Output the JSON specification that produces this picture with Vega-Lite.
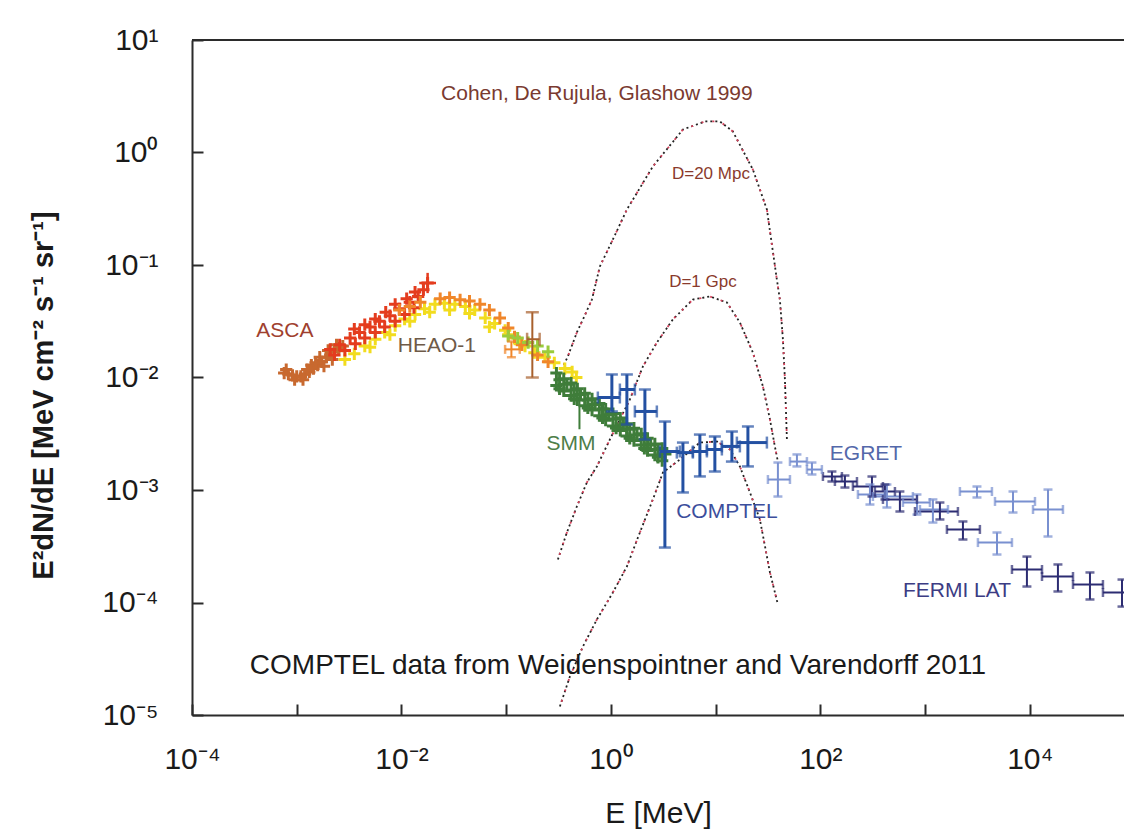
{
  "$schema": "https://vega.github.io/schema/vega-lite/v6.json",
  "width": 932,
  "height": 675,
  "autosize": {"type": "none"},
  "padding": {"left": 192, "top": 40, "right": 0, "bottom": 116},
  "background": "white",
  "config": {
    "view": {"stroke": null},
    "font": "Liberation Sans",
    "axis": {
      "grid": false,
      "domainColor": "#2b2b2b",
      "domainWidth": 2,
      "tickColor": "#2b2b2b",
      "tickWidth": 2,
      "tickSize": -11,
      "labelFont": "Liberation Sans",
      "labelFontSize": 30,
      "labelColor": "#1a1a1a",
      "titleFont": "Liberation Sans",
      "titleColor": "#1a1a1a",
      "labelOverlap": false,
      "labelFlush": false,
      "labelBound": false
    }
  },
  "datasets": {
    "cv": [
      {"c": "D20", "i": 0, "E": 0.340, "F": 0.01178},
      {"c": "D20", "i": 1, "E": 0.388, "F": 0.01538},
      {"c": "D20", "i": 2, "E": 0.473, "F": 0.02512},
      {"c": "D20", "i": 3, "E": 0.541, "F": 0.03281},
      {"c": "D20", "i": 4, "E": 0.659, "F": 0.04932},
      {"c": "D20", "i": 5, "E": 0.785, "F": 0.0971},
      {"c": "D20", "i": 6, "E": 1.045, "F": 0.1687},
      {"c": "D20", "i": 7, "E": 1.422, "F": 0.311},
      {"c": "D20", "i": 8, "E": 2.518, "F": 0.752},
      {"c": "D20", "i": 9, "E": 4.875, "F": 1.6},
      {"c": "D20", "i": 10, "E": 7.907, "F": 1.888},
      {"c": "D20", "i": 11, "E": 10.99, "F": 1.888},
      {"c": "D20", "i": 12, "E": 14.62, "F": 1.538},
      {"c": "D20", "i": 13, "E": 22.7, "F": 0.706},
      {"c": "D20", "i": 14, "E": 30.9, "F": 0.311},
      {"c": "D20", "i": 15, "E": 38.46, "F": 0.0743},
      {"c": "D20", "i": 16, "E": 41.11, "F": 0.04932},
      {"c": "D20", "i": 17, "E": 43.95, "F": 0.02178},
      {"c": "D20", "i": 18, "E": 45.92, "F": 0.00959},
      {"c": "D20", "i": 19, "E": 47.97, "F": 0.00281},
      {"c": "D1G", "i": 0, "E": 0.312, "F": 0.000241},
      {"c": "D1G", "i": 1, "E": 0.38, "F": 0.000419},
      {"c": "D1G", "i": 2, "E": 0.473, "F": 0.000713},
      {"c": "D1G", "i": 3, "E": 0.59, "F": 0.001167},
      {"c": "D1G", "i": 4, "E": 0.735, "F": 0.001618},
      {"c": "D1G", "i": 5, "E": 0.977, "F": 0.00281},
      {"c": "D1G", "i": 6, "E": 1.517, "F": 0.00637},
      {"c": "D1G", "i": 7, "E": 2.023, "F": 0.01253},
      {"c": "D1G", "i": 8, "E": 2.748, "F": 0.02046},
      {"c": "D1G", "i": 9, "E": 3.908, "F": 0.03281},
      {"c": "D1G", "i": 10, "E": 6.067, "F": 0.04932},
      {"c": "D1G", "i": 11, "E": 8.831, "F": 0.05248},
      {"c": "D1G", "i": 12, "E": 12.82, "F": 0.04645},
      {"c": "D1G", "i": 13, "E": 17.06, "F": 0.03083},
      {"c": "D1G", "i": 14, "E": 22.7, "F": 0.01667},
      {"c": "D1G", "i": 15, "E": 28.31, "F": 0.00832},
      {"c": "D1G", "i": 16, "E": 33.04, "F": 0.00424},
      {"c": "D1G", "i": 17, "E": 36.81, "F": 0.00244},
      {"c": "D1G", "i": 18, "E": 39.36, "F": 0.00179},
      {"c": "D3", "i": 0, "E": 0.326, "F": 0.00001191},
      {"c": "D3", "i": 1, "E": 0.406, "F": 0.00002198},
      {"c": "D3", "i": 2, "E": 0.541, "F": 0.00004064},
      {"c": "D3", "i": 3, "E": 0.735, "F": 0.00007063},
      {"c": "D3", "i": 4, "E": 1.045, "F": 0.0001227},
      {"c": "D3", "i": 5, "E": 1.422, "F": 0.0002089},
      {"c": "D3", "i": 6, "E": 1.892, "F": 0.000419},
      {"c": "D3", "i": 7, "E": 2.518, "F": 0.000824},
      {"c": "D3", "i": 8, "E": 3.141, "F": 0.001432},
      {"c": "D3", "i": 9, "E": 4.56, "F": 0.001866},
      {"c": "D3", "i": 10, "E": 7.079, "F": 0.002642},
      {"c": "D3", "i": 11, "E": 10.28, "F": 0.002698},
      {"c": "D3", "i": 12, "E": 13.71, "F": 0.002291},
      {"c": "D3", "i": 13, "E": 17.06, "F": 0.001618},
      {"c": "D3", "i": 14, "E": 21.28, "F": 0.000951},
      {"c": "D3", "i": 15, "E": 26.49, "F": 0.000547},
      {"c": "D3", "i": 16, "E": 33.04, "F": 0.0001849},
      {"c": "D3", "i": 17, "E": 39.36, "F": 0.0000959}
    ],
    "pts": [
      {"s": "HEAOy", "E": 0.002884, "F": 0.01445},
      {"s": "HEAOy", "E": 0.003548, "F": 0.01622},
      {"s": "HEAOy", "E": 0.004467, "F": 0.01905},
      {"s": "HEAOy", "E": 0.005623, "F": 0.02188},
      {"s": "HEAOy", "E": 0.006918, "F": 0.02512},
      {"s": "HEAOy", "E": 0.00871, "F": 0.02884},
      {"s": "HEAOy", "E": 0.01072, "F": 0.03311},
      {"s": "HEAOy", "E": 0.01349, "F": 0.03631},
      {"s": "HEAOy", "E": 0.0166, "F": 0.04074},
      {"s": "HEAOy", "E": 0.02089, "F": 0.04467},
      {"s": "HEAOy", "E": 0.0257, "F": 0.04571},
      {"s": "HEAOy", "E": 0.03236, "F": 0.04467},
      {"s": "HEAOy", "E": 0.04074, "F": 0.04266},
      {"s": "HEAOy", "E": 0.05012, "F": 0.03981},
      {"s": "HEAOy", "E": 0.0631, "F": 0.03388},
      {"s": "HEAOy", "E": 0.07762, "F": 0.0302},
      {"s": "HEAOy", "E": 0.09772, "F": 0.0263},
      {"s": "HEAOy", "E": 0.1202, "F": 0.02239},
      {"s": "HEAOy", "E": 0.1514, "F": 0.01905},
      {"s": "HEAOy", "E": 0.1862, "F": 0.0166},
      {"s": "HEAOy", "E": 0.2344, "F": 0.01514},
      {"s": "HEAOy", "E": 0.2884, "F": 0.01349},
      {"s": "HEAOy", "E": 0.3631, "F": 0.01202},
      {"s": "HEAOy", "E": 0.4266, "F": 0.01122},
      {"s": "HEAOy", "E": 0.4677, "F": 0.01},
      {"s": "HEAOy", "E": 0.01862, "F": 0.03802},
      {"s": "HEAOy", "E": 0.02884, "F": 0.03981},
      {"s": "HEAOy", "E": 0.04467, "F": 0.03715},
      {"s": "HEAOy", "E": 0.06918, "F": 0.02818},
      {"s": "HEAOy", "E": 0.005012, "F": 0.01862},
      {"s": "HEAOy", "E": 0.007762, "F": 0.02399},
      {"s": "HEAOy", "E": 0.01202, "F": 0.03162},
      {"s": "HEAOy", "E": 0.1047, "F": 0.02399},
      {"s": "HEAOy", "E": 0.1349, "F": 0.01995},
      {"s": "ASCAb", "E": 0.000759, "F": 0.01096},
      {"s": "ASCAb", "E": 0.000832, "F": 0.01072},
      {"s": "ASCAb", "E": 0.000912, "F": 0.01047},
      {"s": "ASCAb", "E": 0.001, "F": 0.01023},
      {"s": "ASCAb", "E": 0.001096, "F": 0.01023},
      {"s": "ASCAb", "E": 0.001202, "F": 0.01072},
      {"s": "ASCAb", "E": 0.001318, "F": 0.01122},
      {"s": "ASCAb", "E": 0.001445, "F": 0.01202},
      {"s": "ASCAb", "E": 0.001585, "F": 0.01288},
      {"s": "ASCAb", "E": 0.001738, "F": 0.0138},
      {"s": "ASCAb", "E": 0.001905, "F": 0.01514},
      {"s": "ASCAb", "E": 0.002089, "F": 0.01585},
      {"s": "ASCAb", "E": 0.002291, "F": 0.01698},
      {"s": "ASCAb", "E": 0.002512, "F": 0.0182},
      {"s": "ASCAb", "E": 0.002754, "F": 0.01905},
      {"s": "ASCAb", "E": 0.000794, "F": 0.01175},
      {"s": "ASCAb", "E": 0.000955, "F": 0.00955},
      {"s": "ASCAb", "E": 0.001148, "F": 0.00955},
      {"s": "ASCAb", "E": 0.00138, "F": 0.01288},
      {"s": "ASCAb", "E": 0.00166, "F": 0.01514},
      {"s": "ASCAb", "E": 0.001995, "F": 0.01738},
      {"s": "ASCAb", "E": 0.002399, "F": 0.0195},
      {"s": "ASCAb", "E": 0.00182, "F": 0.01259},
      {"s": "ASCAb", "E": 0.002188, "F": 0.01445},
      {"s": "ASCAb", "E": 0.001259, "F": 0.01175},
      {"s": "ASCAb", "E": 0.001514, "F": 0.01349},
      {"s": "ASCAr", "E": 0.002089, "F": 0.01778},
      {"s": "ASCAr", "E": 0.00257, "F": 0.0195},
      {"s": "ASCAr", "E": 0.003236, "F": 0.02239},
      {"s": "ASCAr", "E": 0.003981, "F": 0.02512},
      {"s": "ASCAr", "E": 0.005012, "F": 0.02818},
      {"s": "ASCAr", "E": 0.006166, "F": 0.03162},
      {"s": "ASCAr", "E": 0.007762, "F": 0.03548},
      {"s": "ASCAr", "E": 0.00955, "F": 0.04074},
      {"s": "ASCAr", "E": 0.01202, "F": 0.04677},
      {"s": "ASCAr", "E": 0.01445, "F": 0.05248},
      {"s": "ASCAr", "E": 0.01622, "F": 0.06026},
      {"s": "ASCAr", "E": 0.01778, "F": 0.06918},
      {"s": "ASCAr", "E": 0.002291, "F": 0.01585},
      {"s": "ASCAr", "E": 0.002884, "F": 0.01738},
      {"s": "ASCAr", "E": 0.003631, "F": 0.01995},
      {"s": "ASCAr", "E": 0.004467, "F": 0.02239},
      {"s": "ASCAr", "E": 0.005623, "F": 0.02512},
      {"s": "ASCAr", "E": 0.006918, "F": 0.02818},
      {"s": "ASCAr", "E": 0.00871, "F": 0.03162},
      {"s": "ASCAr", "E": 0.01072, "F": 0.03631},
      {"s": "ASCAr", "E": 0.01318, "F": 0.04169},
      {"s": "ASCAr", "E": 0.003548, "F": 0.02692},
      {"s": "ASCAr", "E": 0.005623, "F": 0.03311},
      {"s": "ASCAr", "E": 0.00871, "F": 0.04467},
      {"s": "ASCAr", "E": 0.01349, "F": 0.05754},
      {"s": "ASCAr", "E": 0.004467, "F": 0.02951},
      {"s": "ASCAr", "E": 0.007079, "F": 0.03802},
      {"s": "ASCAr", "E": 0.01122, "F": 0.05012},
      {"s": "HEAOo", "E": 0.00955, "F": 0.03981},
      {"s": "HEAOo", "E": 0.01202, "F": 0.04266},
      {"s": "HEAOo", "E": 0.01514, "F": 0.04677},
      {"s": "HEAOo", "E": 0.02344, "F": 0.05012},
      {"s": "HEAOo", "E": 0.02884, "F": 0.05129},
      {"s": "HEAOo", "E": 0.03631, "F": 0.04898},
      {"s": "HEAOo", "E": 0.04467, "F": 0.04786},
      {"s": "HEAOo", "E": 0.05623, "F": 0.04467},
      {"s": "HEAOo", "E": 0.06918, "F": 0.03981},
      {"s": "HEAOo", "E": 0.0871, "F": 0.03388},
      {"s": "HEAOo", "E": 0.1047, "F": 0.02754},
      {"s": "HEAOo", "E": 0.1202, "F": 0.02291},
      {"s": "HEAOo", "E": 0.1413, "F": 0.0195},
      {"s": "HEAOo", "E": 0.1995, "F": 0.01585},
      {"s": "HEAOo", "E": 0.2512, "F": 0.0138},
      {"s": "LG", "E": 0.1047, "F": 0.02344},
      {"s": "LG", "E": 0.1288, "F": 0.02239},
      {"s": "LG", "E": 0.1622, "F": 0.02042},
      {"s": "LG", "E": 0.1995, "F": 0.01905},
      {"s": "LG", "E": 0.2512, "F": 0.01698},
      {"s": "SMM", "E": 0.302, "F": 0.01096},
      {"s": "SMM", "E": 0.3548, "F": 0.009772},
      {"s": "SMM", "E": 0.4169, "F": 0.008913},
      {"s": "SMM", "E": 0.4786, "F": 0.007943},
      {"s": "SMM", "E": 0.5623, "F": 0.007244},
      {"s": "SMM", "E": 0.6607, "F": 0.006457},
      {"s": "SMM", "E": 0.7762, "F": 0.005888},
      {"s": "SMM", "E": 0.8913, "F": 0.005248},
      {"s": "SMM", "E": 1.047, "F": 0.004786},
      {"s": "SMM", "E": 1.23, "F": 0.004365},
      {"s": "SMM", "E": 1.413, "F": 0.00389},
      {"s": "SMM", "E": 1.66, "F": 0.003548},
      {"s": "SMM", "E": 1.95, "F": 0.003162},
      {"s": "SMM", "E": 2.239, "F": 0.002884},
      {"s": "SMM", "E": 2.63, "F": 0.00257},
      {"s": "SMM", "E": 3.09, "F": 0.002344},
      {"s": "SMM", "E": 0.3236, "F": 0.00955},
      {"s": "SMM", "E": 0.3802, "F": 0.00871},
      {"s": "SMM", "E": 0.4467, "F": 0.007762},
      {"s": "SMM", "E": 0.5129, "F": 0.007079},
      {"s": "SMM", "E": 0.6026, "F": 0.00631},
      {"s": "SMM", "E": 0.7079, "F": 0.005754},
      {"s": "SMM", "E": 0.8318, "F": 0.005248},
      {"s": "SMM", "E": 0.955, "F": 0.004677},
      {"s": "SMM", "E": 1.122, "F": 0.004266},
      {"s": "SMM", "E": 1.318, "F": 0.003802},
      {"s": "SMM", "E": 1.514, "F": 0.003467},
      {"s": "SMM", "E": 1.778, "F": 0.00309},
      {"s": "SMM", "E": 2.089, "F": 0.002818},
      {"s": "SMM", "E": 2.399, "F": 0.002512},
      {"s": "SMM", "E": 2.818, "F": 0.002291},
      {"s": "SMM", "E": 3.311, "F": 0.002089},
      {"s": "SMM", "E": 0.302, "F": 0.008511},
      {"s": "SMM", "E": 0.3548, "F": 0.007586},
      {"s": "SMM", "E": 0.4169, "F": 0.006918},
      {"s": "SMM", "E": 0.4786, "F": 0.00631},
      {"s": "SMM", "E": 0.5623, "F": 0.005623},
      {"s": "SMM", "E": 0.6607, "F": 0.005129},
      {"s": "SMM", "E": 0.7762, "F": 0.004571},
      {"s": "SMM", "E": 0.8913, "F": 0.004169},
      {"s": "SMM", "E": 1.047, "F": 0.003715},
      {"s": "SMM", "E": 1.23, "F": 0.003388},
      {"s": "SMM", "E": 1.413, "F": 0.00302},
      {"s": "SMM", "E": 1.66, "F": 0.002754},
      {"s": "SMM", "E": 1.95, "F": 0.002512},
      {"s": "SMM", "E": 2.239, "F": 0.002239},
      {"s": "SMM", "E": 2.63, "F": 0.002042},
      {"s": "SMM", "E": 3.09, "F": 0.00182},
      {"s": "SMM", "E": 0.3236, "F": 0.00794},
      {"s": "SMM", "E": 0.4467, "F": 0.00646},
      {"s": "SMM", "E": 0.6026, "F": 0.00537},
      {"s": "SMM", "E": 0.8318, "F": 0.00437},
      {"s": "SMM", "E": 1.122, "F": 0.00355},
      {"s": "SMM", "E": 1.514, "F": 0.00288},
      {"s": "SMM", "E": 2.089, "F": 0.00234},
      {"s": "SMM", "E": 2.818, "F": 0.00195}
    ],
    "eb": [
      {"s": "ASCAr", "E": 0.01778, "Elo": 0.01479, "Ehi": 0.02138, "F": 0.06918, "Flo": 0.05623, "Fhi": 0.08511, "cap": false},
      {"s": "HEAOo", "E": 0.1122, "Elo": 0.09772, "Ehi": 0.1349, "F": 0.01778, "Flo": 0.01514, "Fhi": 0.02089, "cap": true},
      {"s": "HEAObr", "E": 0.1778, "Elo": 0.1585, "Ehi": 0.2089, "F": 0.02188, "Flo": 0.01, "Fhi": 0.03802, "cap": true},
      {"s": "SMM", "E": 0.5012, "Elo": 0.5012, "Ehi": 0.5012, "F": 0.004898, "Flo": 0.003467, "Fhi": 0.006761, "cap": false},
      {"s": "COMPTEL", "E": 1.022, "Elo": 0.751, "Ehi": 1.219, "F": 0.00664, "Flo": 0.00499, "Fhi": 0.01064, "cap": true},
      {"s": "COMPTEL", "E": 1.422, "Elo": 1.219, "Ehi": 1.695, "F": 0.00782, "Flo": 0.00382, "Fhi": 0.01064, "cap": true},
      {"s": "COMPTEL", "E": 2.113, "Elo": 1.695, "Ehi": 2.748, "F": 0.00499, "Flo": 0.00281, "Fhi": 0.00782, "cap": true},
      {"s": "COMPTEL", "E": 3.279, "Elo": 2.938, "Ehi": 4.56, "F": 0.0022, "Flo": 0.000308, "Fhi": 0.00406, "cap": true},
      {"s": "COMPTEL", "E": 4.875, "Elo": 4.266, "Ehi": 6.067, "F": 0.00215, "Flo": 0.000951, "Fhi": 0.00264, "cap": true},
      {"s": "COMPTEL", "E": 7.079, "Elo": 6.067, "Ehi": 8.26, "F": 0.0022, "Flo": 0.00132, "Fhi": 0.00311, "cap": true},
      {"s": "COMPTEL", "E": 9.84, "Elo": 8.26, "Ehi": 11.48, "F": 0.00229, "Flo": 0.00146, "Fhi": 0.00299, "cap": true},
      {"s": "COMPTEL", "E": 14.31, "Elo": 11.48, "Ehi": 17.06, "F": 0.00244, "Flo": 0.00179, "Fhi": 0.00331, "cap": true},
      {"s": "COMPTEL", "E": 20.35, "Elo": 15.97, "Ehi": 30.9, "F": 0.00264, "Flo": 0.00162, "Fhi": 0.00367, "cap": true},
      {"s": "EGRET", "E": 39.36, "Elo": 31.6, "Ehi": 51.3, "F": 0.001239, "Flo": 0.000875, "Fhi": 0.001755, "cap": true},
      {"s": "EGRET", "E": 59.8, "Elo": 51.3, "Ehi": 74.5, "F": 0.00179, "Flo": 0.00162, "Fhi": 0.00207, "cap": true},
      {"s": "EGRET", "E": 83.2, "Elo": 74.5, "Ehi": 103.5, "F": 0.00152, "Flo": 0.001374, "Fhi": 0.001755, "cap": true},
      {"s": "EGRET", "E": 297.8, "Elo": 228.6, "Ehi": 414, "F": 0.000912, "Flo": 0.000743, "Fhi": 0.001119, "cap": true},
      {"s": "EGRET", "E": 432.5, "Elo": 317.8, "Ehi": 765.6, "F": 0.000875, "Flo": 0.000699, "Fhi": 0.001119, "cap": true},
      {"s": "EGRET", "E": 837.5, "Elo": 615, "Ehi": 1114, "F": 0.000774, "Flo": 0.000605, "Fhi": 0.000912, "cap": true},
      {"s": "EGRET", "E": 1189, "Elo": 894, "Ehi": 1656, "F": 0.000671, "Flo": 0.000514, "Fhi": 0.000824, "cap": true},
      {"s": "EGRET", "E": 3133, "Elo": 2153, "Ehi": 4355, "F": 0.00097, "Flo": 0.000858, "Fhi": 0.001074, "cap": true},
      {"s": "EGRET", "E": 4864, "Elo": 3199, "Ehi": 6761, "F": 0.000341, "Flo": 0.000267, "Fhi": 0.000419, "cap": true},
      {"s": "EGRET", "E": 6918, "Elo": 4656, "Ehi": 11220, "F": 0.000791, "Flo": 0.000631, "Fhi": 0.00097, "cap": true},
      {"s": "EGRET", "E": 14930, "Elo": 10740, "Ehi": 20750, "F": 0.000671, "Flo": 0.000386, "Fhi": 0.001009, "cap": true},
      {"s": "FERMI", "E": 129.1, "Elo": 105.9, "Ehi": 160.8, "F": 0.001318, "Flo": 0.00119, "Fhi": 0.00146, "cap": true},
      {"s": "FERMI", "E": 171.8, "Elo": 137.8, "Ehi": 223.9, "F": 0.00119, "Flo": 0.001052, "Fhi": 0.001345, "cap": true},
      {"s": "FERMI", "E": 311.2, "Elo": 204.8, "Ehi": 396.3, "F": 0.001074, "Flo": 0.000875, "Fhi": 0.001318, "cap": true},
      {"s": "FERMI", "E": 414, "Elo": 332, "Ehi": 516, "F": 0.00097, "Flo": 0.000824, "Fhi": 0.001119, "cap": true},
      {"s": "FERMI", "E": 575.4, "Elo": 396.3, "Ehi": 837.5, "F": 0.000824, "Flo": 0.000644, "Fhi": 0.00097, "cap": true},
      {"s": "FERMI", "E": 1387, "Elo": 801.7, "Ehi": 2061, "F": 0.000644, "Flo": 0.000547, "Fhi": 0.000774, "cap": true},
      {"s": "FERMI", "E": 2301, "Elo": 1618, "Ehi": 3342, "F": 0.000446, "Flo": 0.000363, "Fhi": 0.000525, "cap": true},
      {"s": "FERMI", "E": 9397, "Elo": 6761, "Ehi": 13090, "F": 0.0001965, "Flo": 0.0001387, "Fhi": 0.000256, "cap": true},
      {"s": "FERMI", "E": 18580, "Elo": 13090, "Ehi": 25880, "F": 0.0001703, "Flo": 0.0001253, "Fhi": 0.0002178, "cap": true},
      {"s": "FERMI", "E": 37580, "Elo": 25880, "Ehi": 50000, "F": 0.0001445, "Flo": 0.0001064, "Fhi": 0.0001849, "cap": true},
      {"s": "FERMI", "E": 76030, "Elo": 50000, "Ehi": 112700, "F": 0.0001227, "Flo": 0.000092, "Fhi": 0.00016, "cap": true}
    ],
    "tx": [
      {"t": "ASCA", "E": 0.00077, "F": 0.02564, "k": "tASCA", "g": 1},
      {"t": "HEAO-1", "E": 0.02178, "F": 0.01887, "k": "tHEAO", "g": 1},
      {"t": "SMM", "E": 0.415, "F": 0.002588, "k": "tSMM", "g": 1},
      {"t": "COMPTEL", "E": 12.82, "F": 0.000644, "k": "tCOMPTEL", "g": 1},
      {"t": "EGRET", "E": 272.9, "F": 0.00207, "k": "tEGRET", "g": 1},
      {"t": "FERMI LAT", "E": 2018, "F": 0.0001253, "k": "tFERMI", "g": 1},
      {"t": "Cohen, De Rujula, Glashow 1999", "E": 0.735, "F": 3.28, "k": "tCohen", "g": 1},
      {"t": "D=20 Mpc", "E": 9.02, "F": 0.65, "k": "tD", "g": 2},
      {"t": "D=1 Gpc", "E": 7.57, "F": 0.0713, "k": "tD", "g": 2},
      {"t": "COMPTEL data from Weidenspointner and Varendorff 2011", "E": 0.0003565, "F": 0.000027, "k": "tNote", "g": 3}
    ]
  },
  "layer": [
    {
      "data": {"name": "cv"},
      "mark": {"type": "line", "stroke": "#222222", "strokeWidth": 1.8, "strokeDash": [2, 3], "clip": true},
      "encoding": {
        "x": {
          "field": "E", "type": "quantitative",
          "scale": {"type": "log", "domain": [0.0001, 79432.8], "nice": false},
          "axis": {
            "orient": "bottom",
            "values": [0.0001, 0.001, 0.01, 0.1, 1, 10, 100, 1000, 10000],
            "labelExpr": "round(log(datum.value)/LN10) == -4 ? '10⁻⁴' : round(log(datum.value)/LN10) == -2 ? '10⁻²' : round(log(datum.value)/LN10) == 0 ? '10⁰' : round(log(datum.value)/LN10) == 2 ? '10²' : round(log(datum.value)/LN10) == 4 ? '10⁴' : ''",
            "labelPadding": 40,
            "title": "E [MeV]",
            "titleFontSize": 30,
            "titleFontWeight": "normal",
            "titleY": 83,
            "titleBaseline": "top"
          }
        },
        "y": {
          "field": "F", "type": "quantitative",
          "scale": {"type": "log", "domain": [0.00001, 10], "nice": false},
          "axis": {
            "orient": "left",
            "values": [0.00001, 0.0001, 0.001, 0.01, 0.1, 1, 10],
            "labelExpr": "round(log(datum.value)/LN10) == -5 ? '10⁻⁵' : round(log(datum.value)/LN10) == -4 ? '10⁻⁴' : round(log(datum.value)/LN10) == -3 ? '10⁻³' : round(log(datum.value)/LN10) == -2 ? '10⁻²' : round(log(datum.value)/LN10) == -1 ? '10⁻¹' : round(log(datum.value)/LN10) == 0 ? '10⁰' : round(log(datum.value)/LN10) == 1 ? '10¹' : ''",
            "labelPadding": 45,
            "title": "E²dN/dE [MeV cm⁻² s⁻¹ sr⁻¹]",
            "titleFontSize": 29,
            "titleFontWeight": "bold",
            "titleAngle": 270,
            "titleX": -140,
            "titleY": 355,
            "titleAlign": "center",
            "titleBaseline": "alphabetic"
          }
        },
        "detail": {"field": "c"},
        "order": {"field": "i", "type": "quantitative"}
      }
    },
    {
      "data": {"values": [{"top": 10}]},
      "mark": {"type": "rule", "color": "#2b2b2b", "strokeWidth": 2},
      "encoding": {
        "y": {"field": "top", "type": "quantitative", "scale": {"type": "log", "domain": [0.00001, 10], "nice": false}}
      }
    },
    {
      "data": {"name": "cv"},
      "mark": {"type": "line", "stroke": "#d4405a", "strokeWidth": 1.8, "strokeDash": [2, 9], "strokeDashOffset": 6, "clip": true},
      "encoding": {
        "x": {"field": "E", "type": "quantitative", "scale": {"type": "log", "domain": [0.0001, 79432.8], "nice": false}},
        "y": {"field": "F", "type": "quantitative", "scale": {"type": "log", "domain": [0.00001, 10], "nice": false}},
        "detail": {"field": "c"},
        "order": {"field": "i", "type": "quantitative"}
      }
    },
    {
      "data": {"name": "pts"},
      "mark": {"type": "point", "shape": "M-1,0L1,0M0,-1L0,1", "size": 150, "filled": false, "strokeWidth": 3, "opacity": 1},
      "encoding": {
        "x": {"field": "E", "type": "quantitative", "scale": {"type": "log", "domain": [0.0001, 79432.8], "nice": false}},
        "y": {"field": "F", "type": "quantitative", "scale": {"type": "log", "domain": [0.00001, 10], "nice": false}},
        "color": {
          "field": "s", "type": "nominal", "legend": null,
          "scale": {
            "domain": ["ASCAb", "ASCAr", "HEAOy", "HEAOo", "HEAObr", "LG", "SMM", "COMPTEL", "EGRET", "FERMI", "tASCA", "tHEAO", "tSMM", "tCOMPTEL", "tEGRET", "tFERMI", "tCohen", "tD", "tNote"],
            "range": ["#c8692f", "#e43c1e", "#f2dc1e", "#f0862a", "#a8602c", "#9acb3c", "#3f7d3a", "#2350a2", "#7990d0", "#2c2c72", "#a0402e", "#6e5a48", "#4e7e48", "#3c4e9c", "#5468aa", "#3c3c84", "#7a3a30", "#8a3a2c", "#1a1a1a"]
          }
        }
      }
    },
    {
      "data": {"name": "eb"},
      "mark": {"type": "rule", "clip": true},
      "encoding": {
        "x": {"field": "Elo", "type": "quantitative", "scale": {"type": "log", "domain": [0.0001, 79432.8], "nice": false}},
        "x2": {"field": "Ehi"},
        "y": {"field": "F", "type": "quantitative", "scale": {"type": "log", "domain": [0.00001, 10], "nice": false}},
        "color": {"field": "s", "type": "nominal", "legend": null},
        "strokeWidth": {"field": "s", "type": "nominal", "legend": null, "scale": {"type": "ordinal", "domain": ["ASCAr", "HEAOo", "HEAObr", "SMM", "COMPTEL", "EGRET", "FERMI"], "range": [2.5, 2, 2, 2, 3, 2, 2]}}
      }
    },
    {
      "data": {"name": "eb"},
      "mark": {"type": "rule", "clip": true},
      "encoding": {
        "x": {"field": "E", "type": "quantitative", "scale": {"type": "log", "domain": [0.0001, 79432.8], "nice": false}},
        "y": {"field": "Flo", "type": "quantitative", "scale": {"type": "log", "domain": [0.00001, 10], "nice": false}},
        "y2": {"field": "Fhi"},
        "color": {"field": "s", "type": "nominal", "legend": null},
        "strokeWidth": {"field": "s", "type": "nominal", "legend": null, "scale": {"type": "ordinal", "domain": ["ASCAr", "HEAOo", "HEAObr", "SMM", "COMPTEL", "EGRET", "FERMI"], "range": [2.5, 2, 2, 2, 3, 2, 2]}}
      }
    },
    {
      "data": {"name": "eb"},
      "transform": [{"filter": "datum.cap"}],
      "mark": {"type": "tick", "orient": "horizontal", "thickness": 2.5, "clip": true},
      "encoding": {
        "x": {"field": "E", "type": "quantitative", "scale": {"type": "log", "domain": [0.0001, 79432.8], "nice": false}},
        "y": {"field": "Flo", "type": "quantitative", "scale": {"type": "log", "domain": [0.00001, 10], "nice": false}},
        "color": {"field": "s", "type": "nominal", "legend": null},
        "size": {"field": "s", "type": "nominal", "legend": null, "scale": {"type": "ordinal", "domain": ["HEAOo", "HEAObr", "COMPTEL", "EGRET", "FERMI"], "range": [9, 13, 12, 9, 9]}}
      }
    },
    {
      "data": {"name": "eb"},
      "transform": [{"filter": "datum.cap"}],
      "mark": {"type": "tick", "orient": "horizontal", "thickness": 2.5, "clip": true},
      "encoding": {
        "x": {"field": "E", "type": "quantitative", "scale": {"type": "log", "domain": [0.0001, 79432.8], "nice": false}},
        "y": {"field": "Fhi", "type": "quantitative", "scale": {"type": "log", "domain": [0.00001, 10], "nice": false}},
        "color": {"field": "s", "type": "nominal", "legend": null},
        "size": {"field": "s", "type": "nominal", "legend": null, "scale": {"type": "ordinal", "domain": ["HEAOo", "HEAObr", "COMPTEL", "EGRET", "FERMI"], "range": [9, 13, 12, 9, 9]}}
      }
    },
    {
      "data": {"name": "eb"},
      "transform": [{"filter": "datum.cap"}],
      "mark": {"type": "tick", "orient": "vertical", "thickness": 2.5, "clip": true},
      "encoding": {
        "x": {"field": "Elo", "type": "quantitative", "scale": {"type": "log", "domain": [0.0001, 79432.8], "nice": false}},
        "y": {"field": "F", "type": "quantitative", "scale": {"type": "log", "domain": [0.00001, 10], "nice": false}},
        "color": {"field": "s", "type": "nominal", "legend": null},
        "size": {"field": "s", "type": "nominal", "legend": null, "scale": {"type": "ordinal", "domain": ["HEAOo", "HEAObr", "COMPTEL", "EGRET", "FERMI"], "range": [9, 13, 12, 9, 9]}}
      }
    },
    {
      "data": {"name": "eb"},
      "transform": [{"filter": "datum.cap"}],
      "mark": {"type": "tick", "orient": "vertical", "thickness": 2.5, "clip": true},
      "encoding": {
        "x": {"field": "Ehi", "type": "quantitative", "scale": {"type": "log", "domain": [0.0001, 79432.8], "nice": false}},
        "y": {"field": "F", "type": "quantitative", "scale": {"type": "log", "domain": [0.00001, 10], "nice": false}},
        "color": {"field": "s", "type": "nominal", "legend": null},
        "size": {"field": "s", "type": "nominal", "legend": null, "scale": {"type": "ordinal", "domain": ["HEAOo", "HEAObr", "COMPTEL", "EGRET", "FERMI"], "range": [9, 13, 12, 9, 9]}}
      }
    },
    {
      "data": {"name": "tx"},
      "transform": [{"filter": "datum.g == 1"}],
      "mark": {"type": "text", "font": "Liberation Sans", "fontSize": 21, "align": "center", "baseline": "middle"},
      "encoding": {
        "x": {"field": "E", "type": "quantitative", "scale": {"type": "log", "domain": [0.0001, 79432.8], "nice": false}},
        "y": {"field": "F", "type": "quantitative", "scale": {"type": "log", "domain": [0.00001, 10], "nice": false}},
        "text": {"field": "t"},
        "color": {"field": "k", "type": "nominal", "legend": null}
      }
    },
    {
      "data": {"name": "tx"},
      "transform": [{"filter": "datum.g == 2"}],
      "mark": {"type": "text", "font": "Liberation Sans", "fontSize": 17, "align": "center", "baseline": "middle"},
      "encoding": {
        "x": {"field": "E", "type": "quantitative", "scale": {"type": "log", "domain": [0.0001, 79432.8], "nice": false}},
        "y": {"field": "F", "type": "quantitative", "scale": {"type": "log", "domain": [0.00001, 10], "nice": false}},
        "text": {"field": "t"},
        "color": {"field": "k", "type": "nominal", "legend": null}
      }
    },
    {
      "data": {"name": "tx"},
      "transform": [{"filter": "datum.g == 3"}],
      "mark": {"type": "text", "font": "Liberation Sans", "fontSize": 28, "align": "left", "baseline": "middle"},
      "encoding": {
        "x": {"field": "E", "type": "quantitative", "scale": {"type": "log", "domain": [0.0001, 79432.8], "nice": false}},
        "y": {"field": "F", "type": "quantitative", "scale": {"type": "log", "domain": [0.00001, 10], "nice": false}},
        "text": {"field": "t"},
        "color": {"field": "k", "type": "nominal", "legend": null}
      }
    }
  ]
}
